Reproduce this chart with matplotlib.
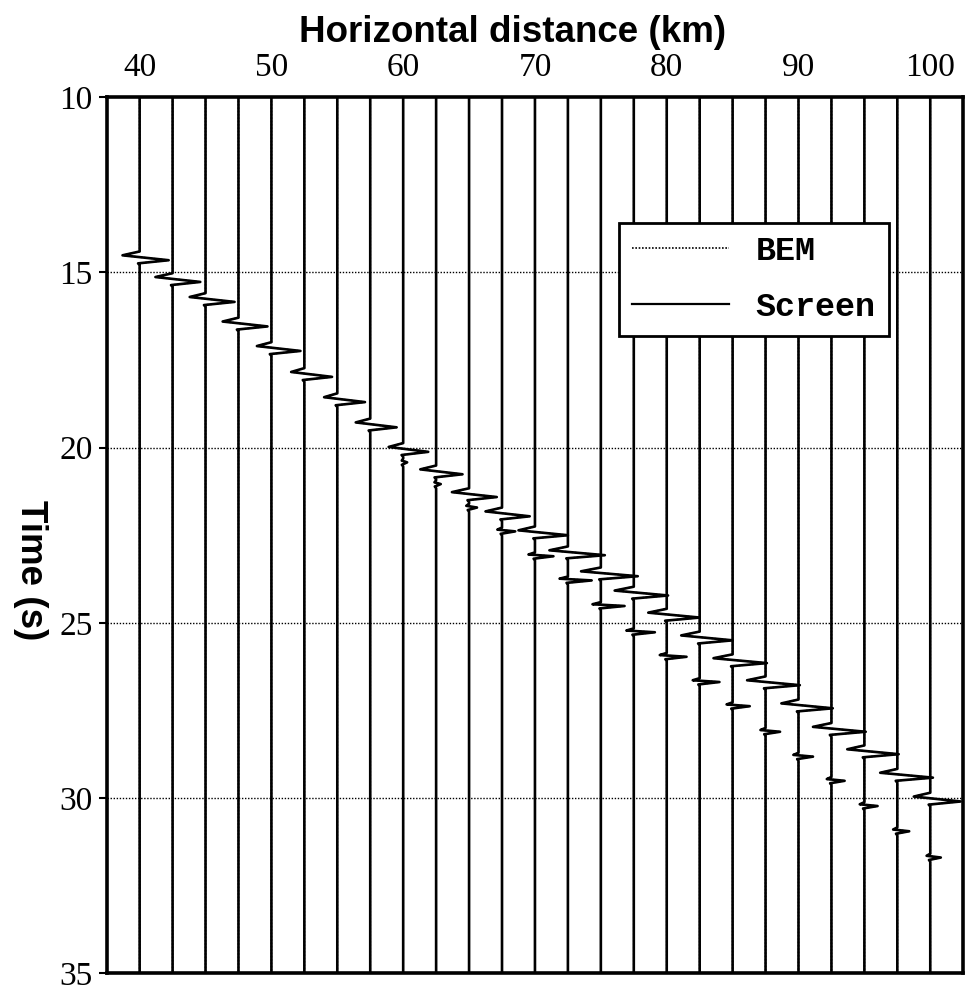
import numpy as np
import matplotlib.pyplot as plt
from matplotlib.lines import Line2D

# trace positions (km) and picked arrival times (s)
distance = [40.0, 42.5, 45.0, 47.5, 50.0, 52.5, 55.0, 57.5, 60.0, 62.5, 65.0, 67.5, 70.0,
            72.5, 75.0, 77.5, 80.0, 82.5, 85.0, 87.5, 90.0, 92.5, 95.0, 97.5, 100.0]
t_primary = [14.65, 15.27, 15.84, 16.54, 17.24, 17.98, 18.70, 19.42, 20.12, 20.76, 21.41, 21.96, 22.50,
             23.07, 23.67, 24.22, 24.85, 25.50, 26.15, 26.78, 27.44, 28.11, 28.75, 29.42, 30.10]
# swing of the main wiggle, km (right peak / left peak)
amp_right = [2.2, 2.1, 2.2, 2.2, 2.2, 2.1, 2.1, 2.0, 1.9, 2.0, 2.1, 2.1, 2.5,
             2.8, 2.8, 2.6, 2.5, 2.5, 2.6, 2.6, 2.6, 2.6, 2.6, 2.7, 2.3]
amp_left = [1.3, 1.3, 1.2, 1.2, 1.1, 1.0, 1.0, 1.1, 1.1, 1.2, 1.3, 1.25, 1.25,
            1.4, 1.5, 1.45, 1.4, 1.4, 1.45, 1.4, 1.3, 1.4, 1.3, 1.3, 1.25]
# later phase: delay after main arrival (s) and swing (km)
sec_delay = [0, 0, 0, 0, 0, 0, 0, 0, 0.30, 0.28, 0.30, 0.43, 0.60,
             0.72, 0.85, 1.05, 1.12, 1.19, 1.23, 1.33, 1.38, 1.40, 1.48, 1.53, 1.60]
sec_amp = [0, 0, 0, 0, 0, 0, 0, 0, 0.3, 0.35, 0.6, 1.0, 1.4,
           1.8, 1.8, 1.6, 1.5, 1.5, 1.3, 1.1, 1.1, 1.0, 1.0, 0.9, 0.8]

time_ticks = [10, 15, 20, 25, 30, 35]
dist_ticks = [40, 50, 60, 70, 80, 90, 100]


def trace(tp, ar, al, sd, sa):
    t = [10.0, tp - 0.25, tp - 0.14, tp, tp + 0.09, tp + 0.14]
    x = [0.0, 0.0, -al, ar, -0.12, 0.0]
    if sa > 0:
        ts = tp + sd
        t += [ts - 0.11, ts - 0.05, ts, ts + 0.07, ts + 0.12]
        x += [0.0, -0.35 * sa, sa, -0.1, 0.0]
    t.append(35.0)
    x.append(0.0)
    return np.array(x), np.array(t)


fig = plt.figure(figsize=(9.7, 9.93), dpi=100)
ax = fig.add_axes([0.110, 0.020, 0.883, 0.882])

for t in time_ticks[1:-1]:
    ax.axhline(t, color='black', lw=1.0, ls=(0, (1, 1.2)), zorder=1)

for i, x0 in enumerate(distance):
    xx, tt = trace(t_primary[i], amp_right[i], amp_left[i], sec_delay[i], sec_amp[i])
    ax.plot(x0 + xx, tt, color='black', lw=1.2, ls=(0, (1, 1)), zorder=2)
    ax.plot(x0 + xx, tt, color='black', lw=1.9, zorder=3)

ax.set_xlim(37.5, 102.5)
ax.set_ylim(35, 10)
ax.xaxis.tick_top()
ax.set_xticks(dist_ticks)
ax.set_yticks(time_ticks)
ax.tick_params(axis='x', length=0, pad=10)
ax.tick_params(axis='y', length=6, width=1.5, pad=4)
for lab in ax.get_xticklabels() + ax.get_yticklabels():
    lab.set_fontfamily('Liberation Serif')
    lab.set_fontsize(24)
for s in ax.spines.values():
    s.set_linewidth(2.6)

fig.text(0.528, 0.967, 'Horizontal distance (km)', ha='center', va='center',
         fontfamily='Liberation Sans', fontweight='bold', fontsize=26.5)
fig.text(0.031, 0.426, 'Time (s)', ha='center', va='center', rotation=270,
         fontfamily='Liberation Sans', fontweight='bold', fontsize=26.5)

handles = [Line2D([], [], color='black', lw=1.2, ls=(0, (1, 1))),
           Line2D([], [], color='black', lw=1.6)]
leg = ax.legend(handles, ['BEM', 'Screen'], loc='upper left', bbox_to_anchor=(0.598, 0.857),
                borderaxespad=0, borderpad=0.4, handlelength=2.9, handletextpad=0.8,
                labelspacing=0.75, fancybox=False, framealpha=1, edgecolor='black',
                prop={'family': 'Liberation Mono', 'weight': 'bold', 'size': 24})
leg.get_frame().set_linewidth(2.0)
leg.set_zorder(5)

fig.savefig('out.png', dpi=100)
